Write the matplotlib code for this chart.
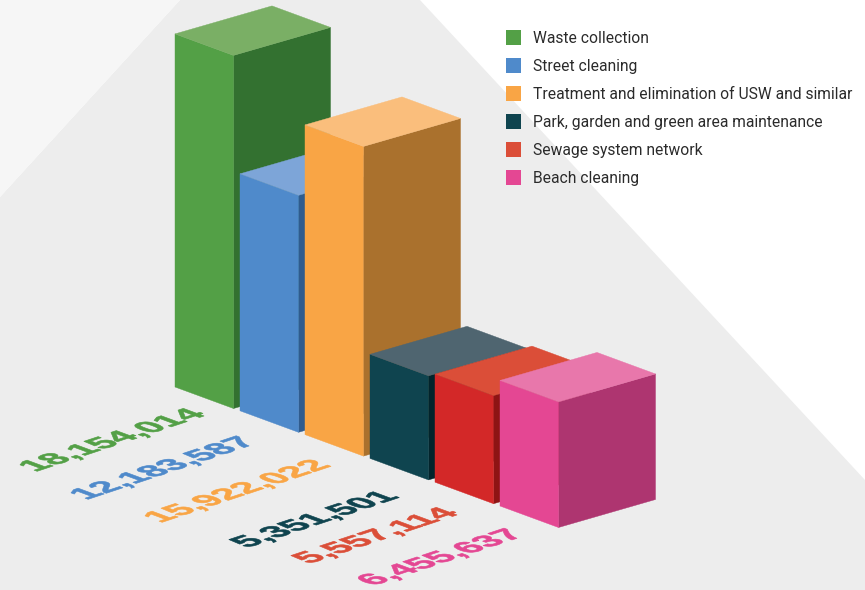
import matplotlib
matplotlib.use("Agg")
import matplotlib.pyplot as plt
from matplotlib.patches import Polygon, Rectangle
from matplotlib.patheffects import AbstractPathEffect
from matplotlib.transforms import Affine2D

# Spending per service
services = ["Waste collection", "Street cleaning",
            "Treatment and elimination of USW and similar",
            "Park, garden and green area maintenance",
            "Sewage system network", "Beach cleaning"]
values = [18154014, 12183587, 15922022, 5351501, 5557114, 6455637]

face_colors = ["#53A046", "#4F8ACB", "#F9A545", "#0F444F", "#D32828", "#E44793"]
top_colors = ["#7AAF65", "#7DA5D8", "#FABE7C", "#4F6570", "#DB4E38", "#E877AB"]
side_colors = ["#337130", "#2F5C8F", "#AA712D", "#02242C", "#8E1414", "#AE3570"]
legend_colors = ["#53A046", "#4F8ACB", "#F9A545", "#0F444F", "#DB4E38", "#E44793"]
label_colors = legend_colors
label_pos = [(35, 472), (86, 500), (160, 523), (247, 548), (309, 564), (373, 586)]

# isometric projection in pixels
PX_PER_UNIT = 19.45 / 1e6
ORIGIN = (175.0, 387.0)
STEP = (65.0, 23.8)
WIDTH = (58.5, 21.5)
DEPTH = (97.0, -28.0)


class FloorText(AbstractPathEffect):
    """Lays glyphs flat on the floor plane of the projection."""
    def __init__(self, scale=3.044, weight=0.45):
        self.skew = Affine2D.from_values(0.905 * scale, 0.30 * scale,
                                         -0.79 * scale, 0.29 * scale, 0, 0)
        self.weight = weight

    def draw_path(self, renderer, gc, tpath, affine, rgbFace=None):
        gc0 = renderer.new_gc()
        gc0.copy_properties(gc)
        gc0.set_linewidth(self.weight)
        gc0.set_foreground(rgbFace)
        renderer.draw_path(gc0, tpath, self.skew + affine, rgbFace)
        gc0.restore()


def face(ax, pts, color):
    ax.add_patch(Polygon(pts, closed=True, facecolor=color, edgecolor=color, lw=0.3))


def bar3d(ax, i, value, colors):
    x0 = ORIGIN[0] + i * STEP[0]
    y0 = ORIGIN[1] + i * STEP[1]
    h = value * PX_PER_UNIT
    wx, wy = WIDTH
    dx, dy = DEPTH
    # side, front and top
    face(ax, [(x0 + wx, y0 + wy), (x0 + wx + dx, y0 + wy + dy),
              (x0 + wx + dx, y0 + wy + dy - h), (x0 + wx, y0 + wy - h)], colors[2])
    face(ax, [(x0, y0), (x0 + wx, y0 + wy), (x0 + wx, y0 + wy - h), (x0, y0 - h)], colors[0])
    face(ax, [(x0, y0 - h), (x0 + wx, y0 + wy - h),
              (x0 + wx + dx, y0 + wy + dy - h), (x0 + dx, y0 + dy - h)], colors[1])


fig = plt.figure(figsize=(8.65, 5.9), dpi=100, facecolor="white")
ax = fig.add_axes([0, 0, 1, 1])
ax.set_xlim(0, 865)
ax.set_ylim(590, 0)
ax.axis("off")

# background shapes
ax.add_patch(Polygon([(180, 0), (420, 0), (865, 480), (865, 590), (0, 590), (0, 197)],
                     facecolor="#EDEDED", edgecolor="none"))
ax.add_patch(Polygon([(0, 0), (180, 0), (0, 197)], facecolor="#F6F6F6", edgecolor="none"))

for i, v in enumerate(values):
    bar3d(ax, i, v, (face_colors[i], top_colors[i], side_colors[i]))

for v, c, (x, y) in zip(values, label_colors, label_pos):
    ax.text(x, y, f"{v:,}", color=c, fontsize=9, family="Liberation Sans", weight="bold",
            ha="left", va="baseline", path_effects=[FloorText()])

# legend
for i, (name, c) in enumerate(zip(services, legend_colors)):
    y = 37.5 + i * 28
    ax.add_patch(Rectangle((506, y - 7.5), 15, 15, facecolor=c, edgecolor="none"))
    ax.text(533, y + 1, name, fontsize=11.25, family="Roboto", color="#2B2B2B", va="center", ha="left")

fig.savefig("out.png", dpi=100)
